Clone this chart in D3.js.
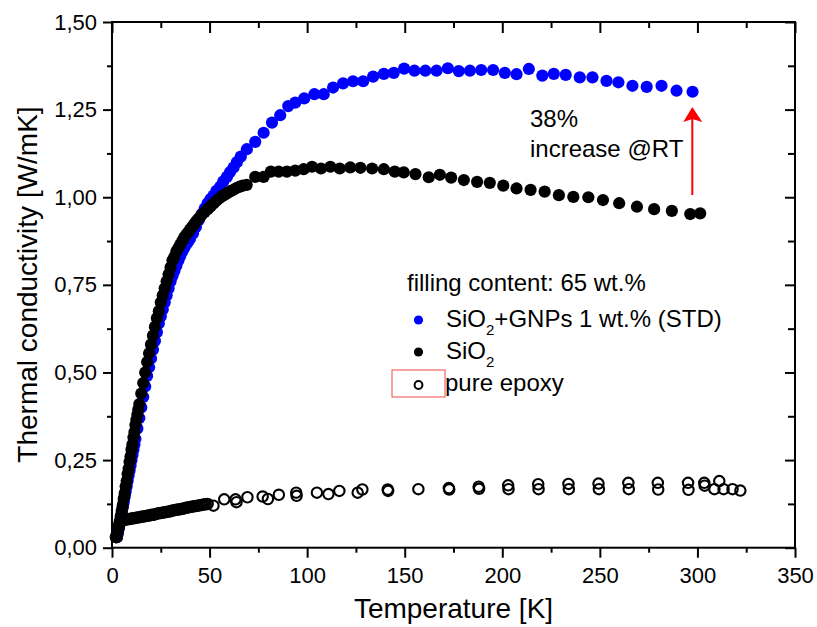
<!DOCTYPE html>
<html>
<head>
<meta charset="utf-8">
<script src="https://cdn.jsdelivr.net/npm/d3@7"></script>
<style>
body { margin: 0; background: #fff; }
text { font-family: "Liberation Sans", Arial, sans-serif; fill: #000; }
</style>
</head>
<body>
<div class="container"></div>
<script>
// SiO2 + GNPs 1 wt.% (STD), blue filled
var gnpT = [2.5,3,3.5,4,4.5,5,5.5,6,6.5,7,7.5,8,8.5,9,9.5,10,10.5,11,11.5,12,13,14,15,16,17,18,19,20,21,22,23,24,25,26,27,28,29,30,31,32,33,34,35,36,37,38,39,40,41.5,43,44.5,46,47.5,49,50.5,52,53.5,55.4,57,58.9,60.5,62.3,64,66,69.1,73.4,77.7,82,86.2,90.3,93.9,98.5,103.7,108.5,113.3,118.4,123.5,128.7,133.8,139.3,144.4,149.7,155,160.6,166.3,172.1,177.7,183.4,189.2,195.3,201.3,207.3,213.6,220.5,226.4,232.5,239.7,246.2,253.4,259.5,266.7,274,281.6,289.3,297.5];
var gnpK = [0.03,0.04,0.055,0.07,0.085,0.10,0.115,0.13,0.145,0.16,0.175,0.19,0.205,0.22,0.235,0.25,0.265,0.28,0.295,0.31,0.34,0.37,0.40,0.43,0.46,0.49,0.515,0.54,0.565,0.59,0.615,0.64,0.66,0.68,0.70,0.72,0.74,0.76,0.775,0.79,0.805,0.82,0.832,0.845,0.855,0.865,0.873,0.882,0.897,0.915,0.935,0.952,0.968,0.983,0.995,1.005,1.018,1.030,1.045,1.058,1.072,1.085,1.100,1.116,1.137,1.158,1.184,1.213,1.234,1.260,1.270,1.282,1.294,1.294,1.313,1.325,1.331,1.331,1.344,1.352,1.355,1.367,1.361,1.361,1.361,1.368,1.360,1.361,1.363,1.363,1.355,1.351,1.366,1.347,1.352,1.349,1.342,1.342,1.332,1.328,1.318,1.315,1.318,1.304,1.301];

// SiO2, black filled
var sioT = [2.5,3,3.5,4,4.5,5,5.5,6,6.5,7,7.5,8,8.5,9,9.5,10,10.5,11,11.5,12,12.5,13,13.5,14,15,16,17,18,19,20,21,22,23,24,25,26,27,28,29,30,31,32,33,34,35,36,37,38,39,40,41,42,43,44,45,46,47.5,49,50.5,52,53.5,55,56.5,58,59.5,61,62.5,64,65.5,67,69,73.4,77.7,81.4,85.4,89.6,93.9,98.2,102.5,107.1,111.9,116.7,122.1,127.3,133.3,139.3,144.9,149.5,155.5,162.3,168,173.8,180.3,187.1,193.6,200.5,207.3,214.5,221.7,229,236.4,244.1,251.6,259.9,269,277.8,286.9,296.3,301.4];
var sioK = [0.03,0.045,0.06,0.075,0.09,0.105,0.12,0.14,0.155,0.175,0.19,0.21,0.225,0.245,0.26,0.28,0.295,0.315,0.33,0.35,0.365,0.38,0.395,0.41,0.44,0.47,0.50,0.53,0.555,0.58,0.605,0.63,0.655,0.675,0.70,0.72,0.74,0.76,0.78,0.80,0.82,0.83,0.845,0.855,0.865,0.875,0.885,0.893,0.90,0.908,0.915,0.922,0.93,0.937,0.943,0.95,0.958,0.966,0.974,0.982,0.99,0.997,1.003,1.008,1.013,1.018,1.022,1.027,1.03,1.033,1.035,1.058,1.058,1.073,1.073,1.073,1.076,1.080,1.087,1.082,1.087,1.082,1.085,1.084,1.082,1.080,1.073,1.071,1.066,1.057,1.064,1.056,1.049,1.044,1.041,1.033,1.025,1.021,1.016,1.006,1.001,1.000,0.992,0.983,0.973,0.966,0.961,0.952,0.954];

// pure epoxy, open circles
var epoT = [2,2.5,3,3.5,4,4.5,5,6,7,8,9,10,11,12,13,14,15,16,17,18,19,20,21,22,23,24,25,26,27,28,29,30,31,32,33,34,35,36,37,38,39,40,41,42,43,44,45,46,47,48,49,52,57.5,63.3,63.8,69.4,77.2,79.9,85.5,94.4,94.6,105,110.9,116.5,125.9,128.3,141.3,141.5,157,172.6,172.8,187.9,188.1,203,203.2,218.4,218.6,233.9,234.1,249.3,249.5,264.6,264.8,279.7,279.9,295.2,295.4,303.5,303.7,308.7,311.2,313.4,318,322];
var epoK = [0.03,0.04,0.05,0.06,0.07,0.075,0.078,0.079,0.080,0.081,0.082,0.083,0.084,0.085,0.086,0.087,0.088,0.089,0.090,0.091,0.092,0.093,0.094,0.095,0.097,0.098,0.099,0.100,0.101,0.102,0.103,0.104,0.106,0.107,0.108,0.109,0.110,0.111,0.112,0.114,0.115,0.116,0.117,0.118,0.119,0.120,0.121,0.122,0.123,0.124,0.125,0.120,0.138,0.138,0.130,0.144,0.146,0.139,0.151,0.157,0.148,0.157,0.153,0.162,0.157,0.166,0.166,0.162,0.167,0.170,0.166,0.174,0.168,0.178,0.167,0.181,0.167,0.182,0.167,0.183,0.167,0.185,0.167,0.185,0.166,0.185,0.165,0.185,0.177,0.167,0.190,0.167,0.167,0.163];

var xTicks = [0,50,100,150,200,250,300,350];
var xMinor = [25,75,125,175,225,275,325];
var yTicks = [0,0.25,0.5,0.75,1.0,1.25,1.5];
var yMinor = [0.125,0.375,0.625,0.875,1.125,1.375];

var w = 817, h = 627;
var svg = d3.select(".container").append("svg").attr("width", w).attr("height", h);

var x = d3.scaleLinear().domain([0, 350]).range([112, 795]);
var y = d3.scaleLinear().domain([0, 1.5]).range([547.7, 22]);
var fmt = function(d){ return d3.format(".2f")(d).replace(".", ","); };

// axes
function styleAxis(g){
  g.selectAll("path.domain").remove();
  g.selectAll("line").attr("stroke", "#000").attr("stroke-width", 2);
  g.selectAll("text").attr("font-size", 22).attr("fill", "#000")
    .style("font-family", "'Liberation Sans', Arial, sans-serif");
}
svg.append("g").attr("transform", "translate(0,547.7)")
  .call(d3.axisBottom(x).tickValues(xTicks).tickSize(10).tickPadding(10)).call(styleAxis);
svg.append("g").attr("transform", "translate(0,547.7)")
  .call(d3.axisBottom(x).tickValues(xMinor).tickSize(5).tickFormat("")).call(styleAxis);
svg.append("g").attr("transform", "translate(112,0)")
  .call(d3.axisLeft(y).tickValues(yTicks).tickSize(9).tickPadding(6).tickFormat(fmt)).call(styleAxis);
svg.append("g").attr("transform", "translate(112,0)")
  .call(d3.axisLeft(y).tickValues(yMinor).tickSize(5).tickFormat("")).call(styleAxis);
svg.append("g").attr("transform", "translate(0,22)")
  .call(d3.axisTop(x).tickValues(xTicks).tickSize(-11).tickFormat("")).call(styleAxis);
svg.append("g").attr("transform", "translate(0,22)")
  .call(d3.axisTop(x).tickValues(xMinor).tickSize(-6).tickFormat("")).call(styleAxis);
svg.append("g").attr("transform", "translate(795,0)")
  .call(d3.axisRight(y).tickValues(yTicks).tickSize(-10).tickFormat("")).call(styleAxis);
svg.append("g").attr("transform", "translate(795,0)")
  .call(d3.axisRight(y).tickValues(yMinor).tickSize(-7).tickFormat("")).call(styleAxis);

svg.append("rect").attr("x", 112).attr("y", 22).attr("width", 683).attr("height", 525.7)
  .attr("fill", "none").attr("stroke", "#000").attr("stroke-width", 2);

// axis titles
svg.append("text").attr("x", 453.5).attr("y", 618).attr("text-anchor", "middle")
  .attr("font-size", 28).text("Temperature [K]");
svg.append("text").attr("transform", "translate(37,284.5) rotate(-90)").attr("text-anchor", "middle")
  .attr("font-size", 28).text("Thermal conductivity [W/mK]");

// data
svg.append("g").selectAll("circle").data(gnpT).enter().append("circle")
  .attr("cx", function(d){ return x(d); })
  .attr("cy", function(d, i){ return y(gnpK[i]); })
  .attr("r", 6.1).attr("fill", "#0000ff");
svg.append("g").selectAll("circle").data(sioT).enter().append("circle")
  .attr("cx", function(d){ return x(d); })
  .attr("cy", function(d, i){ return y(sioK[i]); })
  .attr("r", 6.1).attr("fill", "#000");
svg.append("g").selectAll("circle").data(epoT).enter().append("circle")
  .attr("cx", function(d){ return x(d); })
  .attr("cy", function(d, i){ return y(epoK[i]); })
  .attr("r", 5.2).attr("fill", "none").attr("stroke", "#000").attr("stroke-width", 2.1);

// legend
svg.append("text").attr("x", 407).attr("y", 291).attr("font-size", 24).text("filling content: 65 wt.%");
svg.append("circle").attr("cx", 418.5).attr("cy", 320).attr("r", 4.6).attr("fill", "#0000ff");
svg.append("circle").attr("cx", 418.5).attr("cy", 352).attr("r", 4.6).attr("fill", "#000");
svg.append("circle").attr("cx", 418.5).attr("cy", 385).attr("r", 3.9).attr("fill", "none")
  .attr("stroke", "#000").attr("stroke-width", 2);
var t1 = svg.append("text").attr("x", 446).attr("y", 327).attr("font-size", 24);
t1.append("tspan").text("SiO");
t1.append("tspan").attr("font-size", 15).attr("dy", 8).text("2");
t1.append("tspan").attr("dy", -8).text("+GNPs 1 wt.% (STD)");
var t2 = svg.append("text").attr("x", 446).attr("y", 359).attr("font-size", 24);
t2.append("tspan").text("SiO");
t2.append("tspan").attr("font-size", 15).attr("dy", 8).text("2");
svg.append("text").attr("x", 445).attr("y", 391).attr("font-size", 24).text("pure epoxy");
svg.append("rect").attr("x", 392).attr("y", 370).attr("width", 53).attr("height", 27)
  .attr("fill", "none").attr("stroke", "#f04848").attr("stroke-width", 1);

// annotation
svg.append("text").attr("x", 530).attr("y", 127).attr("font-size", 24).text("38%");
svg.append("text").attr("x", 530).attr("y", 157).attr("font-size", 24).text("increase @RT");
svg.append("line").attr("x1", 692.3).attr("x2", 692.3).attr("y1", 195).attr("y2", 118)
  .attr("stroke", "#ff0000").attr("stroke-width", 2);
svg.append("path").attr("d", d3.line()([[683.3, 122], [692.3, 107], [702.3, 122], [692.3, 119]]) + "Z")
  .attr("fill", "#ff0000");
</script>
</body>
</html>
